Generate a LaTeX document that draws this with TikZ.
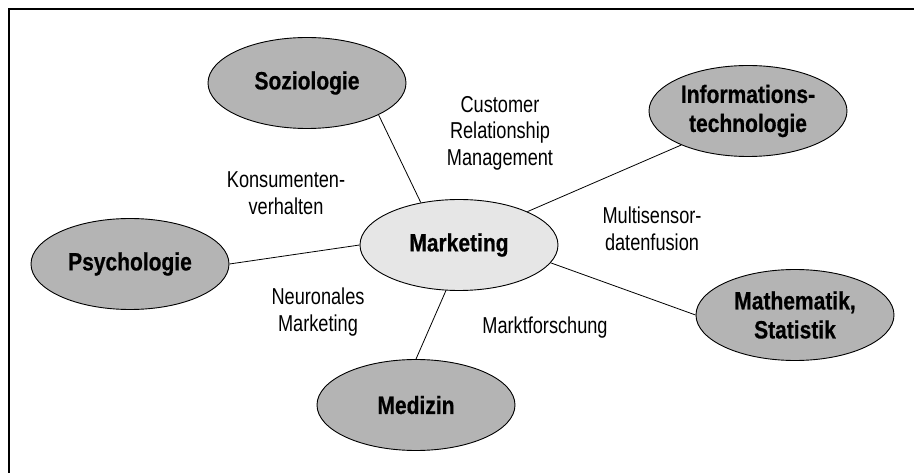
\documentclass[tikz,border=0pt]{standalone}
\usepackage{fontspec}
\setmainfont{Liberation Sans}
\newfontfamily\topicfont{Liberation Sans}[FakeStretch=0.84, BoldFeatures={FakeBold=0.6}]
\newfontfamily\notefont{Liberation Sans}[FakeStretch=0.79]
\usetikzlibrary{shapes.geometric}
\definecolor{topicgrey}{HTML}{B4B4B4}
\definecolor{coregrey}{HTML}{E6E6E6}
\tikzset{
  topic/.style={ellipse, draw=black, line width=0.9pt, fill=topicgrey,
    minimum width=198pt, minimum height=91pt, inner sep=0pt, align=center,
    font=\topicfont\bfseries\fontsize{25}{29}\selectfont},
  core/.style={topic, fill=coregrey},
  note/.style={align=center, inner sep=0pt,
    font=\notefont\fontsize{23}{26.5}\selectfont},
  link/.style={draw=black, line width=0.8pt}
}
\begin{document}
\begin{tikzpicture}[x=1pt, y=-1pt]
\useasboundingbox (0,0) rectangle (914,473);
% frame
\draw[line width=2pt] (9,473) -- (9,9) -- (914,9);

% topic ellipses
\node[core]  (mkt) at (459,245) {Marketing};
\node[topic] (soz) at (307,83)  {Soziologie};
\node[topic] (inf) at (748,111) {Informations-\\technologie};
\node[topic] (psy) at (130,264) {Psychologie};
\node[topic] (mat) at (795,315) {Mathematik,\\Statistik};
\node[topic] (med) at (416,405) {Medizin};

% connectors
\draw[link] (soz.-24) -- (mkt.132);
\draw[link] (inf.207) -- (mkt.26);
\draw[link] (psy.0)   -- (mkt.180);
\draw[link] (mat.180) -- (mkt.-11);
\draw[link] (med.90)  -- (mkt.-106);

% field labels
\node[note] (crm) at (500,133) {Customer\\Relationship\\Management};
\node[note] (kon) at (286,193) {Konsumenten-\\verhalten};
\node[note] (msf) at (652,229) {Multisensor-\\datenfusion};
\node[note] (neu) at (318,312) {Neuronales\\Marketing};
\node[note] (mfo) at (545,328) {Marktforschung};
\end{tikzpicture}
\end{document}
